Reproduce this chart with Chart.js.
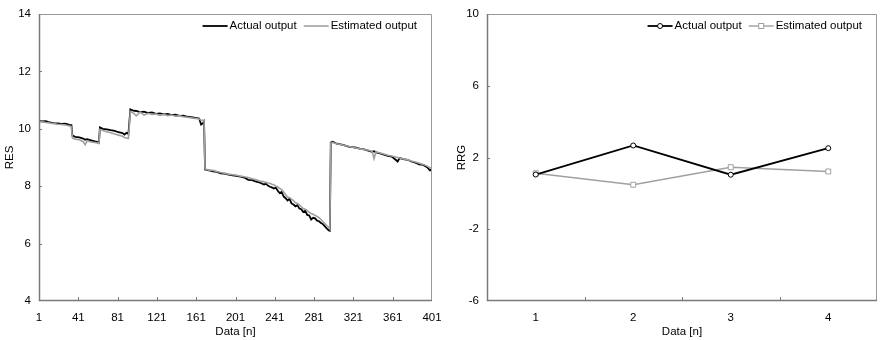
<!DOCTYPE html>
<html>
<head>
<meta charset="utf-8">
<script src="https://cdn.jsdelivr.net/npm/chart.js@4.4.1/dist/chart.umd.min.js"></script>
<style>
  body { margin: 0; background: #fff; }
  .box { position: absolute; top: 0; width: 441px; height: 340px; }
</style>
</head>
<body>
<div class="box" style="left:0"><canvas id="graficoRes"></canvas></div>
<div class="box" style="left:441px"><canvas id="graficoRrg"></canvas></div>
<script>
// Dados - grafico RES (esquerda)
var nRes = [
  1, 4, 8, 12, 16, 20, 24, 28, 32, 34,
  35, 38, 42, 46, 48, 50, 54, 58, 61, 62,
  63, 66, 70, 74, 78, 82, 86, 88, 90, 92,
  94, 97, 100, 104, 108, 112, 116, 120, 124, 128, 132, 136, 140, 144, 148, 152, 156, 160, 164, 166, 168, 169,
  170, 174, 178, 182, 186, 190, 194, 198, 202, 206, 210, 214, 218, 222, 226,
  230, 232, 234, 236, 238, 240, 242, 244, 246, 248, 250, 252, 254, 256, 258, 260, 262, 264, 266, 268,
  270, 272, 274, 276, 278, 280, 282, 284, 286, 288, 290, 292, 294, 296, 297,
  298, 300, 304, 308, 312, 316, 320, 324, 328, 332, 336, 340, 342, 344, 348, 352, 356, 360, 364, 366, 368, 372, 376, 380, 384, 388, 392, 396, 399, 401
];
var actualRes = [
  10.28, 10.26, 10.27, 10.22, 10.20, 10.19, 10.17, 10.18, 10.14, 10.13,
  9.76, 9.72, 9.70, 9.66, 9.62, 9.64, 9.60, 9.56, 9.54, 9.52,
  10.05, 10.00, 9.98, 9.95, 9.93, 9.88, 9.85, 9.80, 9.86, 9.82,
  10.68, 10.63, 10.62, 10.58, 10.60, 10.55, 10.57, 10.52, 10.54, 10.50, 10.52, 10.48, 10.49, 10.45, 10.46, 10.42, 10.41, 10.38, 10.36, 10.15, 10.20, 10.25,
  8.58, 8.55, 8.52, 8.50, 8.45, 8.44, 8.40, 8.38, 8.36, 8.33, 8.30, 8.22, 8.21, 8.16, 8.12,
  8.06, 8.08, 8.02, 7.98, 7.96, 7.92, 7.95, 7.84, 7.76, 7.80, 7.64, 7.58, 7.50, 7.56, 7.40, 7.36, 7.30, 7.34, 7.22, 7.20,
  7.10, 7.14, 7.00, 6.98, 6.84, 6.90, 6.88, 6.80, 6.78, 6.72, 6.68, 6.60, 6.52, 6.46, 6.45,
  9.52, 9.55, 9.48, 9.46, 9.42, 9.38, 9.36, 9.34, 9.30, 9.28, 9.24, 9.20, 9.22, 9.18, 9.14, 9.10, 9.06, 9.03, 8.92, 8.86, 8.98, 8.94, 8.92, 8.86, 8.82, 8.76, 8.74, 8.66, 8.55, 8.58
];
var estimatedRes = [
  10.25, 10.24, 10.22, 10.20, 10.18, 10.16, 10.15, 10.13, 10.10, 10.08,
  9.68, 9.64, 9.62, 9.55, 9.45, 9.58, 9.54, 9.52, 9.50, 9.49,
  9.98, 9.94, 9.90, 9.86, 9.82, 9.78, 9.74, 9.70, 9.68, 9.66,
  10.60, 10.55, 10.45, 10.58, 10.48, 10.54, 10.50, 10.52, 10.47, 10.50, 10.46, 10.48, 10.44, 10.45, 10.42, 10.40, 10.38, 10.36, 10.34, 10.30, 10.30, 10.30,
  8.60, 8.56, 8.55, 8.51, 8.48, 8.45, 8.42, 8.40, 8.38, 8.35, 8.33, 8.30, 8.26, 8.22, 8.18,
  8.15, 8.14, 8.11, 8.10, 8.07, 8.05, 8.00, 7.98, 7.92, 7.88, 7.80, 7.70, 7.62, 7.60, 7.55, 7.50, 7.42, 7.40, 7.35, 7.28,
  7.22, 7.20, 7.15, 7.10, 7.05, 7.02, 6.98, 6.95, 6.90, 6.84, 6.76, 6.70, 6.62, 6.55, 6.50,
  9.50, 9.52, 9.48, 9.45, 9.42, 9.39, 9.36, 9.33, 9.30, 9.28, 9.25, 9.22, 8.96, 9.20, 9.16, 9.12, 9.08, 9.05, 9.02, 9.00, 8.98, 8.95, 8.92, 8.88, 8.84, 8.80, 8.76, 8.70, 8.64, 8.62
];
var xTicksRes = [1, 41, 81, 121, 161, 201, 241, 281, 321, 361, 401];
var yTicksRes = [4, 6, 8, 10, 12, 14];

// Dados - grafico RRG (direita)
var categoriasRrg = ['1', '2', '3', '4'];
var actualRrg = [1.05, 2.67, 1.04, 2.52];
var estimatedRrg = [1.12, 0.48, 1.46, 1.22];
var yTicksRrg = [-6, -2, 2, 6, 10];

var fonte = { family: '"Liberation Sans", Arial, sans-serif', size: 11.5 };
var fonteCss = '11.5px "Liberation Sans", Arial, sans-serif';

// moldura, marcas internas e legenda
var moldura = {
  id: 'moldura',
  afterDraw: function (chart, args, opts) {
    var ctx = chart.ctx, a = chart.chartArea;
    var sx = chart.scales.x, sy = chart.scales.y;
    ctx.save();
    ctx.strokeStyle = '#9a9a9a';
    ctx.lineWidth = 1;
    ctx.beginPath();
    ctx.moveTo(a.left, a.top + 0.5);
    ctx.lineTo(a.right - 0.5, a.top + 0.5);
    ctx.lineTo(a.right - 0.5, a.bottom);
    ctx.stroke();
    ctx.strokeStyle = '#7a7a7a';
    ctx.lineWidth = 1.5;
    ctx.beginPath();
    ctx.moveTo(a.left + 0.5, a.top);
    ctx.lineTo(a.left + 0.5, a.bottom - 0.5);
    ctx.lineTo(a.right, a.bottom - 0.5);
    ctx.stroke();

    // marcas para dentro
    ctx.lineWidth = 1;
    ctx.beginPath();
    var xs = [];
    if (opts.categoria) {
      for (var i = 0; i < sx.ticks.length - 1; i++) {
        xs.push((sx.getPixelForValue(i) + sx.getPixelForValue(i + 1)) / 2);
      }
    } else {
      sx.ticks.slice(1, -1).forEach(function (t) { xs.push(sx.getPixelForValue(t.value)); });
    }
    xs.forEach(function (x) {
      x = Math.round(x) + 0.5;
      ctx.moveTo(x, a.bottom);
      ctx.lineTo(x, a.bottom - 4);
    });
    sy.ticks.slice(1, -1).forEach(function (t) {
      var y = Math.round(sy.getPixelForValue(t.value)) + 0.5;
      ctx.moveTo(a.left, y);
      ctx.lineTo(a.left + 3, y);
    });
    ctx.stroke();

    // legenda
    ctx.font = fonteCss;
    ctx.textBaseline = 'middle';
    ctx.fillStyle = '#000';
    var yl = a.top + 12;
    var x = a.right - 15;
    for (var k = opts.itens.length - 1; k >= 0; k--) {
      var it = opts.itens[k];
      var w = ctx.measureText(it.label).width;
      var tx = x - w;
      ctx.fillText(it.label, tx, yl);
      var x2 = tx - 2, x1 = x2 - 25;
      ctx.strokeStyle = it.cor;
      ctx.lineWidth = it.largura;
      ctx.beginPath();
      ctx.moveTo(x1, yl);
      ctx.lineTo(x2, yl);
      ctx.stroke();
      var cx = (x1 + x2) / 2;
      ctx.lineWidth = 1;
      if (it.marca === 'circle') {
        ctx.fillStyle = '#fff';
        ctx.beginPath();
        ctx.arc(cx, yl, 2.5, 0, Math.PI * 2);
        ctx.fill();
        ctx.stroke();
      } else if (it.marca === 'rect') {
        ctx.fillStyle = '#fff';
        ctx.fillRect(cx - 2.5, yl - 2.5, 5, 5);
        ctx.strokeRect(cx - 2.5, yl - 2.5, 5, 5);
      }
      ctx.fillStyle = '#000';
      x = x1 - 7;
    }
    ctx.restore();
  }
};

function eixoY(ticksArr, min, max, largura, titulo, padTitulo) {
  return {
    min: min, max: max,
    afterBuildTicks: function (s) { s.ticks = ticksArr.map(function (v) { return { value: v }; }); },
    afterFit: function (s) { s.width = largura; s.paddingTop = 0; s.paddingBottom = 0; },
    grid: { display: false, drawTicks: false },
    border: { display: false },
    ticks: { padding: 8, color: '#000', font: fonte },
    title: { display: true, text: titulo, color: '#000', font: fonte, padding: { top: padTitulo, bottom: 0 } }
  };
}

function eixoX(extra) {
  var eixo = {
    afterFit: function (s) { s.height = 39; s.paddingLeft = 0; s.paddingRight = 0; },
    grid: { display: false, drawTicks: false },
    border: { display: false },
    ticks: { padding: 10, color: '#000', font: fonte, maxRotation: 0, autoSkip: false },
    title: { display: true, text: 'Data [n]', color: '#000', font: fonte, padding: { top: 0, bottom: 1.5 } }
  };
  for (var k in extra) eixo[k] = extra[k];
  return eixo;
}

var ctxRes = document.getElementById('graficoRes').getContext('2d');
new Chart(ctxRes, {
  type: 'line',
  data: {
    datasets: [
      {
        label: 'Actual output',
        data: nRes.map(function (n, i) { return { x: n, y: actualRes[i] }; }),
        borderColor: '#000',
        borderWidth: 1.8,
        pointRadius: 0,
        tension: 0,
        order: 2
      },
      {
        label: 'Estimated output',
        data: nRes.map(function (n, i) { return { x: n, y: estimatedRes[i] }; }),
        borderColor: '#a0a0a0',
        borderWidth: 1.6,
        pointRadius: 0,
        tension: 0,
        order: 1
      }
    ]
  },
  options: {
    responsive: true,
    maintainAspectRatio: false,
    animation: false,
    layout: { padding: { top: 14, right: 9, left: 0, bottom: 0 } },
    plugins: {
      legend: { display: false },
      tooltip: { enabled: false },
      moldura: {
        categoria: false,
        itens: [
          { label: 'Actual output', cor: '#000', largura: 1.8 },
          { label: 'Estimated output', cor: '#a0a0a0', largura: 1.6 }
        ]
      }
    },
    scales: {
      x: eixoX({
        type: 'linear',
        min: 1, max: 401,
        afterBuildTicks: function (s) { s.ticks = xTicksRes.map(function (v) { return { value: v }; }); }
      }),
      y: eixoY(yTicksRes, 4, 14, 39, 'RES', 3)
    }
  },
  plugins: [moldura]
});

var ctxRrg = document.getElementById('graficoRrg').getContext('2d');
new Chart(ctxRrg, {
  type: 'line',
  data: {
    labels: categoriasRrg,
    datasets: [
      {
        label: 'Actual output',
        data: actualRrg,
        borderColor: '#000',
        borderWidth: 1.8,
        pointStyle: 'circle',
        pointRadius: 2.5,
        pointBorderWidth: 1,
        pointBackgroundColor: '#fff',
        pointBorderColor: '#000',
        tension: 0,
        order: 1
      },
      {
        label: 'Estimated output',
        data: estimatedRrg,
        borderColor: '#a0a0a0',
        borderWidth: 1.4,
        pointStyle: 'rect',
        pointRadius: 3.5,
        pointBorderWidth: 1,
        pointBackgroundColor: '#fff',
        pointBorderColor: '#a0a0a0',
        tension: 0,
        order: 2
      }
    ]
  },
  options: {
    responsive: true,
    maintainAspectRatio: false,
    animation: false,
    layout: { padding: { top: 14, right: 1, left: 0, bottom: 0 } },
    plugins: {
      legend: { display: false },
      tooltip: { enabled: false },
      moldura: {
        categoria: true,
        itens: [
          { label: 'Actual output', cor: '#000', largura: 1.8, marca: 'circle' },
          { label: 'Estimated output', cor: '#a0a0a0', largura: 1.4, marca: 'rect' }
        ]
      }
    },
    scales: {
      x: eixoX({ type: 'category', offset: true }),
      y: eixoY(yTicksRrg, -6, 10, 46, 'RRG', 14)
    }
  },
  plugins: [moldura]
});
</script>
</body>
</html>
